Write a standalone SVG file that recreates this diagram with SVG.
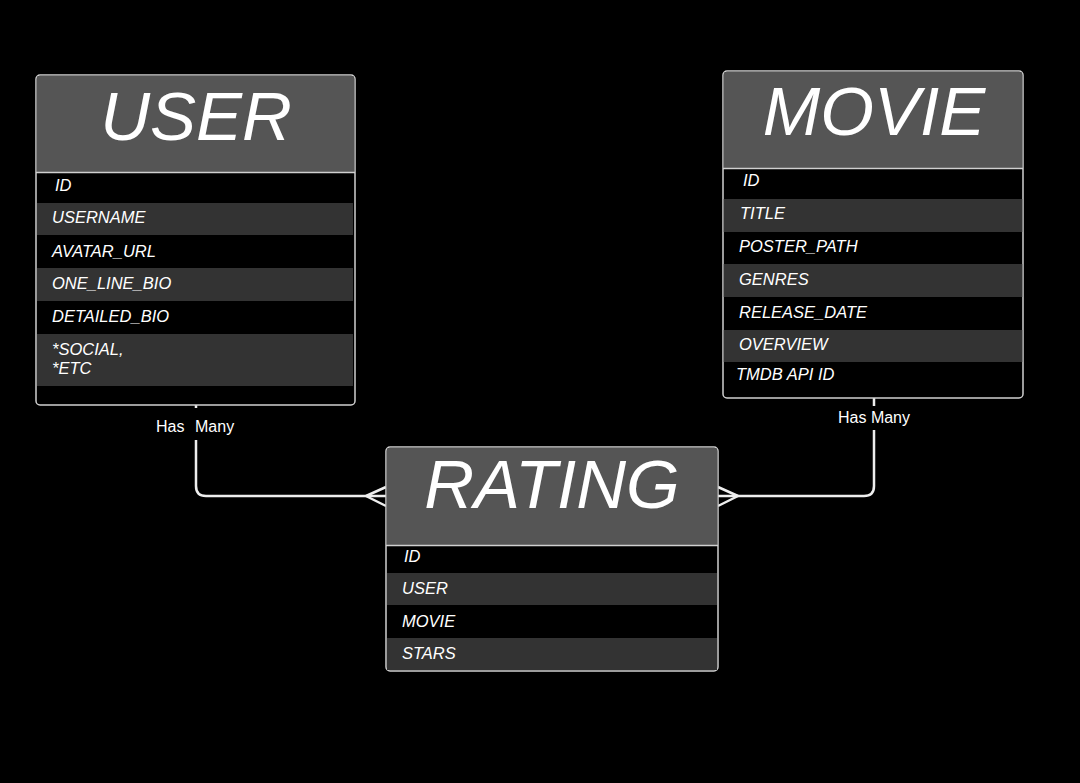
<svg xmlns="http://www.w3.org/2000/svg" width="1080" height="783" viewBox="0 0 1080 783">
<style>
.frame{fill:#000;stroke:#d0d0d0;stroke-width:1.5}
.head{fill:#555555}
.alt{fill:#333333}
.sep{stroke:#d0d0d0;stroke-width:1.5}
.title{font-family:"Liberation Sans",Arial,sans-serif;font-style:italic;font-size:69px;fill:#fff;text-anchor:middle}
.field{font-family:"Liberation Sans",Arial,sans-serif;font-style:italic;font-size:16.5px;fill:#fff}
.lbl{font-family:"Liberation Sans",Arial,sans-serif;font-size:16px;fill:#fff}
.conn{fill:none;stroke:#eeeeee;stroke-width:2.5;stroke-linejoin:round}
</style>
<rect width="1080" height="783" fill="#000"/>
<g id="connectors">
<path class="conn" d="M196,405 V408 M196,440 V486 Q196,496 206,496 H386"/>
<path class="conn" d="M366,496 L386,487 M366,496 L386,506"/>
<path class="conn" d="M874,398 V406 M874,430 V486 Q874,496 864,496 H718"/>
<path class="conn" d="M738,496 L718,487 M738,496 L718,506"/>
<text class="lbl" x="156" y="432">Has<tspan x="195">Many</tspan></text>
<text class="lbl" x="874" y="423" text-anchor="middle">Has Many</text>
</g>
<g id="user">
<rect class="frame" x="36" y="75" width="319" height="330" rx="4"/>
<path class="head" d="M40,75.75 H351 Q354.25,75.75 354.25,79 V172 H36.75 V79 Q36.75,75.75 40,75.75 Z"/>
<line class="sep" x1="36" y1="172.5" x2="355" y2="172.5"/>
<rect class="alt" x="37" y="203" width="316" height="32"/>
<rect class="alt" x="37" y="268" width="316" height="33"/>
<rect class="alt" x="37" y="334" width="316" height="52"/>
<text class="title" x="196" y="140">USER</text>
<text class="field" x="55" y="191">ID</text>
<text class="field" x="52" y="223">USERNAME</text>
<text class="field" x="52" y="257">AVATAR_URL</text>
<text class="field" x="52" y="289">ONE_LINE_BIO</text>
<text class="field" x="52" y="322">DETAILED_BIO</text>
<text class="field" x="52" y="355">*SOCIAL,</text>
<text class="field" x="52" y="374">*ETC</text>
</g>
<g id="movie">
<rect class="frame" x="723" y="71" width="300" height="327" rx="4"/>
<path class="head" d="M727,71.75 H1019 Q1022.25,71.75 1022.25,75 V168 H723.75 V75 Q723.75,71.75 727,71.75 Z"/>
<line class="sep" x1="723" y1="168.5" x2="1023" y2="168.5"/>
<rect class="alt" x="723.75" y="199" width="298.5" height="33"/>
<rect class="alt" x="723.75" y="264" width="298.5" height="33"/>
<rect class="alt" x="723.75" y="330" width="298.5" height="32"/>
<text class="title" x="874" y="135">MOVIE</text>
<text class="field" x="743" y="186">ID</text>
<text class="field" x="740" y="219">TITLE</text>
<text class="field" x="739" y="252">POSTER_PATH</text>
<text class="field" x="739" y="285">GENRES</text>
<text class="field" x="739" y="318">RELEASE_DATE</text>
<text class="field" x="739" y="350">OVERVIEW</text>
<text class="field" x="736" y="380">TMDB API ID</text>
</g>
<g id="rating">
<rect class="frame" x="386" y="447" width="332" height="224" rx="4"/>
<path class="head" d="M390,447.75 H714 Q717.25,447.75 717.25,451 V545 H386.75 V451 Q386.75,447.75 390,447.75 Z"/>
<line class="sep" x1="386" y1="545.5" x2="718" y2="545.5"/>
<rect class="alt" x="387" y="573" width="330" height="32"/>
<rect class="alt" x="387" y="638" width="330" height="32"/>
<text class="title" x="552" y="508">RATING</text>
<text class="field" x="404" y="562">ID</text>
<text class="field" x="402" y="594">USER</text>
<text class="field" x="402" y="627">MOVIE</text>
<text class="field" x="402" y="659">STARS</text>
</g>
</svg>
